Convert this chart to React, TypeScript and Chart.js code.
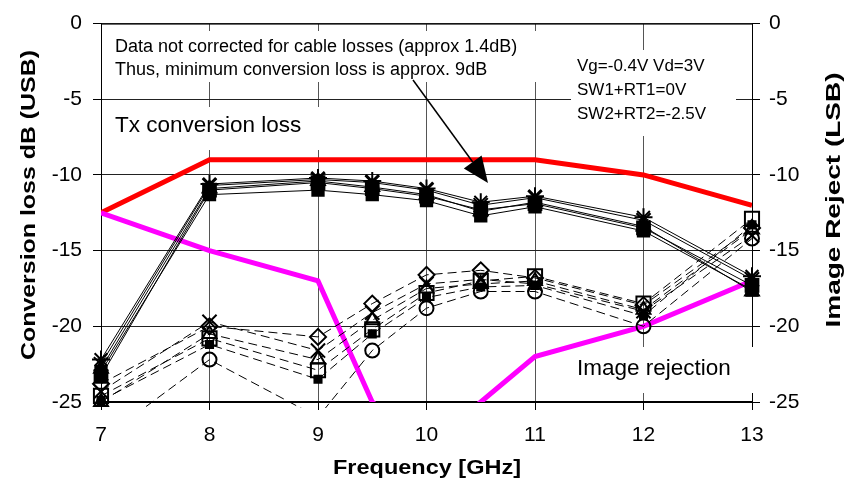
import React, { useEffect, useRef } from 'react';
import { Chart, registerables } from 'chart.js';

Chart.register(...registerables);

// ---------- data ----------
const freq = [7, 8, 9, 9.5, 10, 10.5, 11, 12, 13];

// Tx conversion loss envelope (red) and image rejection envelope (magenta)
const txLossFreq = [7, 8, 11, 12, 13];
const txLoss = [-12.5, -9, -9, -10, -12];
const imageRejFreq = [7, 8, 9, 9.5, 10, 10.5, 11, 12, 13];
const imageRej = [-12.5, -15, -17, -25, -28, -25, -22, -20, -17];

// measured conversion loss (solid lines)
const convStar = [-22.2, -10.6, -10.2, -10.4, -10.9, -11.8, -11.4, -12.8, -16.7];
const convCross = [-22.5, -10.7, -10.3, -10.5, -11.0, -12.0, -11.5, -13.0, -16.9];
const convTriangle = [-22.8, -10.9, -10.4, -10.8, -11.3, -12.4, -11.8, -13.4, -17.7];
const convSquare = [-23.3, -11.0, -10.5, -10.9, -11.4, -12.3, -11.9, -13.5, -17.3];
const convLow = [-23.0, -11.3, -11.0, -11.3, -11.7, -12.7, -12.1, -13.7, -17.6];

// measured image reject (dashed lines)
const rejDiamond = [-23.8, -20.0, -20.7, -18.5, -16.6, -16.3, -16.8, -18.6, -13.5];
const rejCross = [-24.3, -19.7, -21.6, -19.1, -17.2, -16.9, -17.2, -19.0, -14.0];
const rejSquare = [-24.6, -20.8, -22.9, -20.2, -17.8, -17.0, -16.7, -18.5, -12.9];
const rejSmallSquare = [-24.9, -21.2, -23.5, -20.5, -18.1, -17.4, -17.3, -19.3, -13.3];
const rejCircle = [-27.5, -22.2, -26.0, -21.6, -18.8, -17.7, -17.7, -20.0, -14.2];
const rejTriangle = [-25.0, -20.5, -22.2, -19.6, -17.5, -17.2, -17.0, -18.9, -13.6];

const xMin = 7;
const xMax = 13;
const yMin = -25;
const yMax = 0;
const yStep = 5;

const noteLines = [
  'Data not corrected for cable losses (approx 1.4dB)',
  'Thus, minimum conversion loss is approx. 9dB',
];
const biasLines = ['Vg=-0.4V Vd=3V', 'SW1+RT1=0V', 'SW2+RT2=-2.5V'];
const txLabel = 'Tx conversion loss';
const rejLabel = 'Image rejection';
const leftTitle = 'Conversion loss dB (USB)';
const rightTitle = 'Image Reject (LSB)';
const xTitle = 'Frequency [GHz]';

const FONT = '"Liberation Sans", Arial, sans-serif';

const pts = (xs: number[], ys: number[]) => xs.map((x, i) => ({ x, y: ys[i] }));

const markerClip = { left: 12, right: 12, top: 6, bottom: 6 };

function solid(label: string, ys: number[], style: string, radius: number, fill: string) {
  return {
    label,
    data: pts(freq, ys),
    borderColor: '#000',
    borderWidth: 1,
    pointStyle: style,
    pointRadius: radius,
    pointBorderWidth: 2,
    pointBorderColor: '#000',
    pointBackgroundColor: fill,
    clip: markerClip,
  };
}

function dashed(label: string, ys: number[], style: string, radius: number, fill: string) {
  return {
    ...solid(label, ys, style, radius, fill),
    borderDash: [9, 5],
  };
}

function stretchText(ctx: CanvasRenderingContext2D, text: string, x: number, y: number, rot: number, font: string, len: number) {
  ctx.save();
  ctx.font = font;
  const w = ctx.measureText(text).width;
  ctx.translate(x, y);
  ctx.rotate(rot);
  ctx.scale(len / w, 1);
  ctx.textAlign = 'center';
  ctx.textBaseline = 'alphabetic';
  ctx.fillStyle = '#000';
  ctx.fillText(text, 0, 0);
  ctx.restore();
}

const annotations = {
  id: 'annotations',
  beforeDatasetsDraw(chart: any) {
    const ctx: CanvasRenderingContext2D = chart.ctx;
    const a = chart.chartArea;
    ctx.save();
    // top frame line
    ctx.strokeStyle = '#000';
    ctx.lineWidth = 1;
    ctx.beginPath();
    ctx.moveTo(a.left, a.top + 0.5);
    ctx.lineTo(a.right, a.top + 0.5);
    ctx.stroke();
    // white label boxes
    ctx.fillStyle = '#fff';
    ctx.fillRect(106, 31, 435, 51);
    ctx.fillRect(106, 107, 220, 43);
    ctx.fillRect(571, 50, 165, 86);
    ctx.fillRect(569, 347, 190, 46);
    // texts
    ctx.fillStyle = '#000';
    ctx.textAlign = 'left';
    ctx.textBaseline = 'alphabetic';
    ctx.font = `18px ${FONT}`;
    ctx.fillText(noteLines[0], 115, 52);
    ctx.fillText(noteLines[1], 115, 75);
    ctx.font = `17px ${FONT}`;
    biasLines.forEach((t, i) => ctx.fillText(t, 577, 71 + i * 24));
    ctx.font = `22.5px ${FONT}`;
    ctx.fillText(txLabel, 115, 132);
    ctx.fillText(rejLabel, 577, 375);
    ctx.restore();
  },
  afterDatasetsDraw(chart: any) {
    const ctx: CanvasRenderingContext2D = chart.ctx;
    ctx.save();
    // arrow
    const x0 = 413, y0 = 80, x1 = 488, y1 = 183;
    const ang = Math.atan2(y1 - y0, x1 - x0);
    const hl = 26, hw = 11;
    const bx = x1 - hl * Math.cos(ang);
    const by = y1 - hl * Math.sin(ang);
    ctx.strokeStyle = '#000';
    ctx.lineWidth = 1.5;
    ctx.beginPath();
    ctx.moveTo(x0, y0);
    ctx.lineTo(bx, by);
    ctx.stroke();
    ctx.fillStyle = '#000';
    ctx.beginPath();
    ctx.moveTo(x1, y1);
    ctx.lineTo(bx + hw * Math.sin(ang), by - hw * Math.cos(ang));
    ctx.lineTo(bx - hw * Math.sin(ang), by + hw * Math.cos(ang));
    ctx.closePath();
    ctx.fill();
    ctx.restore();
  },
  afterDraw(chart: any) {
    const ctx: CanvasRenderingContext2D = chart.ctx;
    stretchText(ctx, leftTitle, 35, 205, -Math.PI / 2, `bold 21px ${FONT}`, 310);
    stretchText(ctx, rightTitle, 840, 200, -Math.PI / 2, `bold 21px ${FONT}`, 255);
    stretchText(ctx, xTitle, 427, 474, 0, `bold 21px ${FONT}`, 188);
  },
};

export default function App() {
  const ref = useRef<HTMLCanvasElement | null>(null);

  useEffect(() => {
    if (!ref.current) return;
    const tickFont = { family: FONT, size: 21 };
    const chart = new Chart(ref.current, {
      type: 'line',
      data: {
        datasets: [
          solid('conv asterisk', convStar, 'star', 9, 'transparent'),
          solid('conv x', convCross, 'crossRot', 10, 'transparent'),
          solid('conv triangle', convTriangle, 'triangle', 8, '#000'),
          solid('conv square', convSquare, 'rect', 9, '#000'),
          solid('conv low', convLow, 'rect', 8, '#000'),
          dashed('rej diamond', rejDiamond, 'rectRot', 8, 'transparent'),
          dashed('rej x', rejCross, 'crossRot', 10, 'transparent'),
          dashed('rej square', rejSquare, 'rect', 10, 'transparent'),
          dashed('rej small square', rejSmallSquare, 'rect', 5, '#000'),
          dashed('rej circle', rejCircle, 'circle', 7, 'transparent'),
          dashed('rej triangle', rejTriangle, 'triangle', 8, 'transparent'),
          {
            label: 'Image rejection',
            data: pts(imageRejFreq, imageRej),
            borderColor: '#ff00ff',
            borderWidth: 5,
            pointRadius: 0,
            clip: 0,
          },
          {
            label: 'Tx conversion loss',
            data: pts(txLossFreq, txLoss),
            borderColor: '#ff0000',
            borderWidth: 5,
            pointRadius: 0,
            clip: 0,
          },
        ] as any,
      },
      options: {
        animation: false,
        responsive: false,
        maintainAspectRatio: false,
        layout: { padding: { top: 18, left: 0, right: 0, bottom: 0 } },
        plugins: { legend: { display: false }, tooltip: { enabled: false } },
        elements: { line: { tension: 0 } },
        scales: {
          x: {
            type: 'linear',
            position: 'bottom',
            min: xMin,
            max: xMax,
            ticks: { stepSize: 1, font: tickFont, color: '#000', padding: 13 },
            grid: { color: '#555', lineWidth: 1, tickLength: 8, tickColor: '#000' },
            border: { display: true, color: '#000', width: 2 },
            title: { display: false },
            afterFit: (s: any) => { s.height = 88; },
          },
          y: {
            type: 'linear',
            position: 'left',
            min: yMin,
            max: yMax,
            ticks: { stepSize: yStep, font: tickFont, color: '#000', padding: 11 },
            grid: { color: '#222', lineWidth: 1, tickLength: 8, tickColor: '#000' },
            border: { display: true, color: '#000', width: 1 },
            title: { display: false },
            afterFit: (s: any) => { s.width = 101; },
          },
          y2: {
            type: 'linear',
            position: 'right',
            min: yMin,
            max: yMax,
            ticks: { stepSize: yStep, font: tickFont, color: '#000', padding: 9 },
            grid: { drawOnChartArea: false, tickLength: 8, tickColor: '#000', color: '#000' },
            border: { display: true, color: '#000', width: 1 },
            title: { display: false },
            afterFit: (s: any) => { s.width = 94; },
          },
        },
      } as any,
      plugins: [annotations],
    });
    return () => chart.destroy();
  }, []);

  return (
    <div style={{ position: 'fixed', left: 0, top: 0, width: 846, height: 490, background: '#fff' }}>
      <canvas ref={ref} width={846} height={490} />
    </div>
  );
}
